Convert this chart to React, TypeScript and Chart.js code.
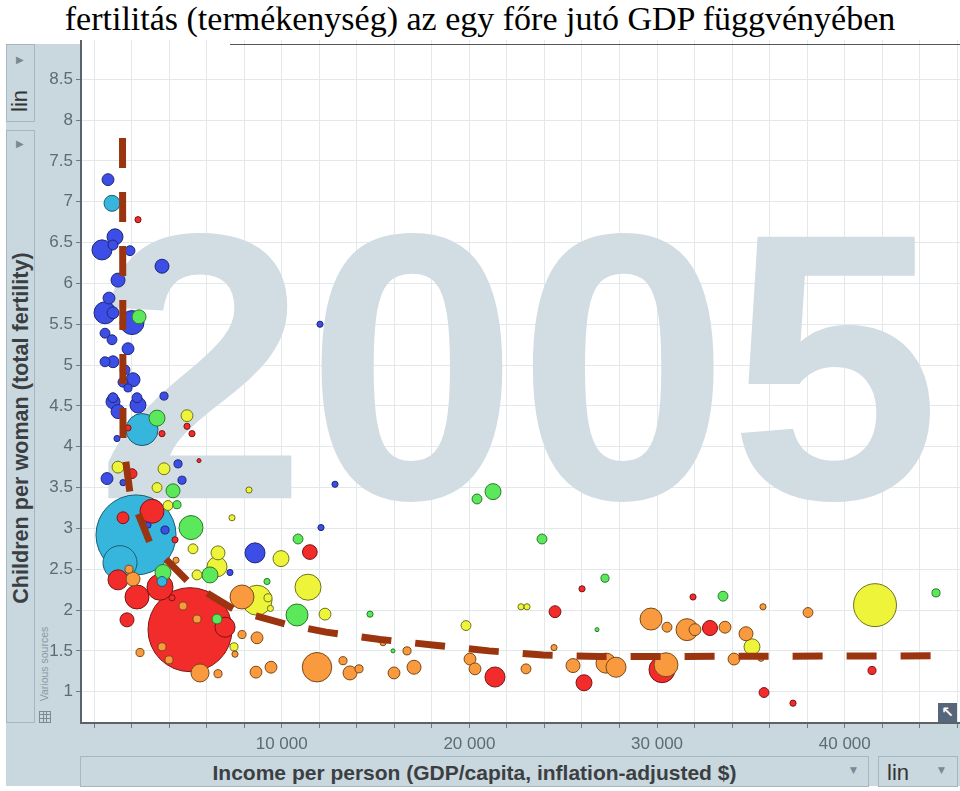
import React, { useEffect, useRef } from 'react';
import { Chart, registerables } from 'chart.js';

Chart.register(...registerables);

// [income per person ($), children per woman, population (millions)]
type Row = [number, number, number];

const subSaharanAfrica: Row[] = [
  [746, 7.27, 26], [1119, 6.57, 47], [1012, 6.47, 18], [426, 6.41, 74], [1918, 6.40, 18],
  [3623, 6.21, 36], [1279, 6.04, 36], [799, 5.82, 26], [586, 5.64, 89], [1012, 5.64, 26],
  [2025, 5.52, 106], [586, 5.39, 18], [959, 5.31, 18], [1812, 5.20, 26], [586, 5.04, 18],
  [1012, 5.04, 26], [1652, 4.94, 18], [2078, 4.82, 36], [1812, 4.72, 12], [1012, 4.60, 18],
  [2291, 4.60, 18], [3730, 4.62, 12], [1012, 4.55, 36], [2344, 4.51, 47], [1279, 4.43, 36],
  [1225, 4.10, 7], [693, 3.61, 26], [1545, 3.56, 7], [4476, 3.79, 12], [4689, 3.59, 12],
  [2877, 3.04, 7], [3783, 2.98, 12], [8578, 2.70, 74], [12095, 3.01, 7], [12840, 3.54, 7],
  [12041, 5.50, 7], [7246, 2.46, 7], [1545, 4.79, 18],
];

const southAsia: Row[] = [
  [959, 6.98, 47], [2557, 4.21, 189], [2238, 2.92, 1180], [1385, 2.58, 213], [3623, 2.35, 18],
];

const eastAsiaPacific: Row[] = [
  [2344, 6.78, 7], [1812, 4.23, 7], [4955, 4.25, 7], [5221, 4.16, 7], [3623, 4.16, 7],
  [2025, 3.67, 18], [5594, 3.83, 3], [3090, 3.21, 106], [1545, 3.13, 26], [4316, 2.86, 7],
  [11500, 2.71, 40], [1279, 2.37, 74], [3516, 2.28, 125], [2291, 2.16, 106], [4156, 2.15, 7],
  [1758, 1.88, 36], [5115, 1.76, 1300], [6980, 1.79, 74], [26001, 2.26, 7], [24562, 1.98, 26],
  [31915, 2.16, 7], [32820, 1.78, 42], [21365, 1.18, 74], [26107, 1.11, 47], [30263, 1.27, 125],
  [41452, 1.26, 12], [35698, 0.99, 18], [37243, 0.86, 7],
];

const europeCentralAsia: Row[] = [
  [4369, 2.61, 7], [2078, 2.38, 36], [1865, 2.50, 12], [4742, 2.05, 12], [5488, 1.89, 12],
  [3623, 1.55, 12], [3996, 1.39, 12], [2451, 1.48, 12], [5648, 1.23, 60], [6607, 1.22, 12],
  [7885, 2.16, 106], [7885, 1.70, 12], [7512, 1.46, 7], [8685, 1.66, 26], [8631, 1.24, 26],
  [9431, 1.30, 26], [11881, 1.30, 160], [35644, 2.04, 7], [38042, 1.97, 18], [29677, 1.89, 89],
  [30530, 1.79, 18], [31595, 1.76, 89], [32021, 1.76, 26], [33620, 1.79, 26], [34739, 1.71, 36],
  [35538, 1.41, 7], [34099, 1.40, 26], [13267, 1.38, 12], [13640, 1.23, 36], [14119, 1.28, 12],
  [15398, 1.60, 7], [16677, 1.50, 12], [15984, 1.23, 26], [17050, 1.30, 36], [20033, 1.40, 26],
  [20300, 1.28, 26], [23017, 1.28, 18], [24509, 1.54, 7], [25521, 1.32, 36], [27279, 1.35, 74],
  [27812, 1.30, 74], [30476, 1.33, 106],
];

const america: Row[] = [
  [4955, 4.38, 26], [1279, 3.75, 26], [3730, 3.73, 26], [3357, 3.50, 18], [3943, 3.28, 18],
  [8258, 3.47, 7], [5275, 2.75, 18], [6607, 2.70, 36], [9963, 2.63, 47], [5488, 2.43, 18],
  [6553, 2.53, 74], [8685, 2.12, 166], [9271, 2.15, 12], [9400, 2.02, 7], [11402, 2.28, 125],
  [7459, 1.55, 12], [7352, 3.13, 7], [12308, 1.95, 26], [22751, 2.04, 7], [23070, 2.04, 7],
  [19820, 1.81, 18], [41612, 2.06, 340], [35058, 1.55, 47],
];

const middleEastNorthAfrica: Row[] = [
  [2398, 5.59, 36], [3357, 4.35, 47], [4209, 3.46, 36], [4422, 3.29, 12], [5168, 3.01, 106],
  [3676, 2.46, 47], [6180, 2.43, 47], [6553, 1.89, 18], [10816, 1.94, 89], [10870, 2.87, 18],
  [9217, 2.35, 7], [21259, 3.45, 47], [20406, 3.36, 18], [23869, 2.87, 18], [27226, 2.39, 12],
  [26800, 1.76, 3], [33513, 2.17, 18], [44862, 2.21, 12], [15931, 1.50, 3], [14705, 1.95, 7],
];

// hand-drawn trend (dashed line)
const trendIncome = [1518, 1545, 1918, 2984, 5008, 7512, 10336, 12361, 15238, 18168, 21046, 23923, 26960, 45075];
const trendFertility = [7.78, 4.08, 3.43, 2.82, 2.35, 2.00, 1.82, 1.73, 1.64, 1.57, 1.50, 1.45, 1.43, 1.44];

// axis ticks
const xTickValues = [0, 2000, 4000, 6000, 8000, 10000, 12000, 14000, 16000, 18000, 20000, 22000, 24000,
  26000, 28000, 30000, 32000, 34000, 36000, 38000, 40000, 42000, 44000, 46000];
const xLabelValues = [10000, 20000, 30000, 40000];
const xLabelTexts = ['10 000', '20 000', '30 000', '40 000'];
const yTickValues = [1, 1.5, 2, 2.5, 3, 3.5, 4, 4.5, 5, 5.5, 6, 6.5, 7, 7.5, 8, 8.5];
const yTickTexts = ['1', '1.5', '2', '2.5', '3', '3.5', '4', '4.5', '5', '5.5', '6', '6.5', '7', '7.5', '8', '8.5'];

const yearLabel = '2005';
const titleText = 'fertilitás (termékenység) az egy főre jutó GDP függvényében';
const xTitle = 'Income per person (GDP/capita, inflation-adjusted $)';
const yTitle = 'Children per woman (total fertility)';

const regionStyles = [
  { rows: subSaharanAfrica, fill: '#3d4ee6', edge: '#1f2878' },
  { rows: southAsia, fill: '#36b6dc', edge: '#1b5e72' },
  { rows: eastAsiaPacific, fill: '#f22b2b', edge: '#7a1616' },
  { rows: europeCentralAsia, fill: '#f89a3d', edge: '#7a4a1a' },
  { rows: america, fill: '#eef43a', edge: '#6f7419' },
  { rows: middleEastNorthAfrica, fill: '#5be95b', edge: '#2a7a2a' },
];

const radiusOf = (pop: number) => 1.165 * Math.sqrt(pop);

const PANEL = '#c9d7df';
const BOX_BORDER = '1px solid #a7b6bf';

const backdrop = {
  id: 'backdrop',
  beforeDraw(chart: any) {
    const { ctx, chartArea: a } = chart;
    ctx.save();
    ctx.fillStyle = '#ffffff';
    ctx.fillRect(a.left, a.top, a.right - a.left, a.bottom - a.top);
    ctx.restore();
  },
  beforeDatasetsDraw(chart: any) {
    const { ctx, chartArea: a } = chart;
    ctx.save();
    ctx.beginPath();
    ctx.rect(a.left, a.top, a.right - a.left, a.bottom - a.top);
    ctx.clip();
    ctx.font = 'bold 380px "Liberation Sans", Arial, sans-serif';
    ctx.fillStyle = '#d1dce3';
    ctx.textAlign = 'center';
    ctx.textBaseline = 'alphabetic';
    ctx.fillText(yearLabel, a.left + 0.497 * (a.right - a.left), a.top + 0.671 * (a.bottom - a.top));
    ctx.restore();
  },
};

const Rot = ({ cx, cy, style, children }: any) => (
  <div
    style={{
      position: 'absolute', left: cx, top: cy, transform: 'translate(-50%, -50%) rotate(-90deg)',
      whiteSpace: 'nowrap', lineHeight: 1, ...style,
    }}
  >
    {children}
  </div>
);

export default function App() {
  const ref = useRef<HTMLCanvasElement>(null);

  useEffect(() => {
    document.body.style.margin = '0';
    const canvas = ref.current;
    if (!canvas) return;

    const points = regionStyles
      .flatMap((g) => g.rows.map(([x, y, pop]) => ({ x, y, r: radiusOf(pop), fill: g.fill, edge: g.edge })))
      .sort((p, q) => q.r - p.r);

    const tickFont = { family: '"Liberation Sans", Arial, sans-serif', size: 17 };

    const chart = new Chart(canvas, {
      type: 'bubble',
      data: {
        datasets: [
          {
            type: 'line',
            data: trendIncome.map((x, i) => ({ x, y: trendFertility[i] })),
            borderColor: '#9b3510',
            borderWidth: 7,
            borderDash: [30, 24],
            pointRadius: 0,
            fill: false,
            tension: 0,
            order: 0,
          } as any,
          {
            type: 'bubble',
            data: points.map((p) => ({ x: p.x, y: p.y, r: p.r })),
            backgroundColor: points.map((p) => p.fill),
            borderColor: points.map((p) => p.edge),
            borderWidth: 1,
            hoverRadius: 0,
            order: 1,
          } as any,
        ],
      },
      options: {
        animation: false,
        responsive: false,
        events: [],
        layout: { padding: 0, autoPadding: false },
        plugins: { legend: { display: false }, tooltip: { enabled: false } },
        scales: {
          x: {
            type: 'linear',
            min: -693,
            max: 46140,
            afterBuildTicks: (s: any) => { s.ticks = xTickValues.map((value) => ({ value })); },
            afterFit: (s: any) => { s.height = 34; s.paddingLeft = 0; s.paddingRight = 0; s.paddingTop = 0; s.paddingBottom = 0; },
            ticks: {
              autoSkip: false,
              maxRotation: 0,
              minRotation: 0,
              padding: 6,
              color: '#5f6a71',
              font: tickFont,
              callback: (v: any) => {
                const i = xLabelValues.indexOf(Math.round(Number(v)));
                return i >= 0 ? xLabelTexts[i] : '';
              },
            },
            grid: { color: '#e3e8eb', tickLength: 5, tickColor: '#6e7a82' },
            border: { color: '#5b6268', width: 2 },
          },
          y: {
            type: 'linear',
            min: 0.617,
            max: 8.98,
            afterBuildTicks: (s: any) => { s.ticks = yTickValues.map((value) => ({ value })); },
            afterFit: (s: any) => { s.width = 81; s.paddingLeft = 0; s.paddingRight = 0; s.paddingTop = 0; s.paddingBottom = 0; },
            ticks: {
              autoSkip: false,
              padding: 3,
              color: '#5f6a71',
              font: tickFont,
              callback: (v: any) => {
                const i = yTickValues.indexOf(Number(v));
                return i >= 0 ? yTickTexts[i] : '';
              },
            },
            grid: { color: '#e3e8eb', tickLength: 5, tickColor: '#6e7a82' },
            border: { color: '#5b6268', width: 2 },
          },
        },
      },
      plugins: [backdrop],
    } as any);

    return () => chart.destroy();
  }, []);

  const tri: React.CSSProperties = { position: 'absolute', color: '#7b8890', fontSize: 10, lineHeight: 1, fontFamily: '"DejaVu Sans", sans-serif' };

  return (
    <div style={{ position: 'relative', width: 960, height: 791, overflow: 'hidden', background: '#fff', fontFamily: '"Liberation Sans", Arial, sans-serif' }}>
      <div style={{ position: 'absolute', left: 0, top: 2, width: 960, textAlign: 'center', font: '34px/34px "Liberation Serif", "Times New Roman", serif', color: '#000', whiteSpace: 'nowrap' }}>
        {titleText}
      </div>

      <div style={{ position: 'absolute', left: 6, top: 44, width: 75, height: 742, background: PANEL }} />
      <div style={{ position: 'absolute', left: 6, top: 723, width: 954, height: 63, background: PANEL }} />

      <div style={{ position: 'absolute', left: 6, top: 44, width: 29, height: 78, border: BOX_BORDER, boxSizing: 'border-box' }} />
      <div style={{ position: 'absolute', left: 6, top: 130, width: 29, height: 593, border: BOX_BORDER, boxSizing: 'border-box' }} />
      <div style={{ ...tri, left: 16, top: 55 }}>▶</div>
      <div style={{ ...tri, left: 16, top: 139 }}>▶</div>
      <Rot cx={20} cy={101} style={{ fontSize: 22, color: '#333' }}>lin</Rot>
      <Rot cx={21} cy={428} style={{ fontSize: 21.6, fontWeight: 'bold', color: '#3b3f42' }}>{yTitle}</Rot>
      <Rot cx={44} cy={664} style={{ fontSize: 10.5, color: '#8b99a1' }}>Various sources</Rot>
      <div
        style={{
          position: 'absolute', left: 39, top: 711, width: 12, height: 12, boxSizing: 'border-box', border: '1px solid #7c8a92',
          backgroundImage: 'linear-gradient(90deg, transparent 3px, #7c8a92 3px, #7c8a92 4px, transparent 4px, transparent 6.5px, #7c8a92 6.5px, #7c8a92 7.5px, transparent 7.5px), linear-gradient(0deg, transparent 3px, #7c8a92 3px, #7c8a92 4px, transparent 4px, transparent 6.5px, #7c8a92 6.5px, #7c8a92 7.5px, transparent 7.5px)',
        }}
      />

      <div style={{ position: 'absolute', left: 80, top: 756, width: 789, height: 31, border: BOX_BORDER, boxSizing: 'border-box' }} />
      <div style={{ position: 'absolute', left: 80, top: 761, width: 789, textAlign: 'center', fontSize: 21, fontWeight: 'bold', color: '#3b3f42', lineHeight: '24px', whiteSpace: 'nowrap' }}>
        {xTitle}
      </div>
      <div style={{ ...tri, left: 850, top: 766, fontSize: 9 }}>▼</div>
      <div style={{ position: 'absolute', left: 878, top: 756, width: 80, height: 31, border: BOX_BORDER, boxSizing: 'border-box' }} />
      <div style={{ position: 'absolute', left: 887, top: 761, fontSize: 22, color: '#333', lineHeight: '24px' }}>lin</div>
      <div style={{ ...tri, left: 938, top: 766, fontSize: 9 }}>▼</div>

      <canvas ref={ref} width={960} height={717} style={{ position: 'absolute', left: 0, top: 40, width: 960, height: 717 }} />

      <div style={{ position: 'absolute', left: 230, top: 44, width: 730, height: 1, background: '#555' }} />
      <div style={{ position: 'absolute', left: 938, top: 703, width: 19, height: 19, background: '#56657a', color: '#fff', fontSize: 15, lineHeight: '19px', textAlign: 'center', fontWeight: 'bold', fontFamily: '"DejaVu Sans", sans-serif' }}>
        ↖
      </div>
    </div>
  );
}
